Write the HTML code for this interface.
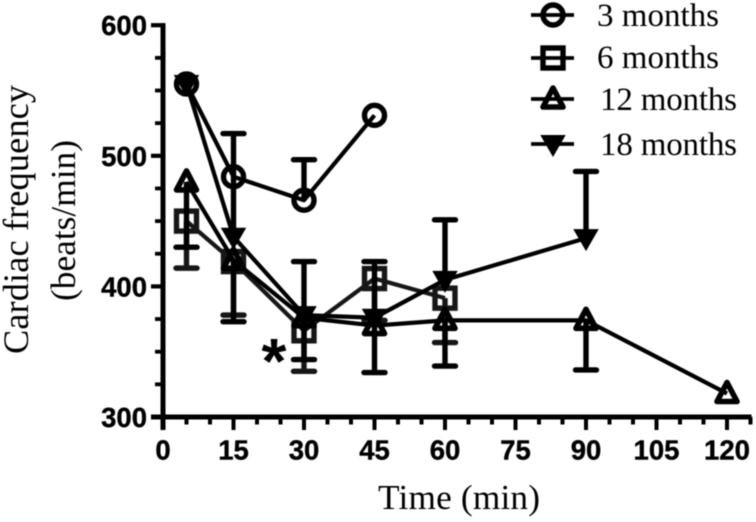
<!DOCTYPE html>
<html><head><meta charset="utf-8"><title>Cardiac frequency</title>
<style>
html,body{margin:0;padding:0;background:#fff;width:756px;height:522px;overflow:hidden}
svg{display:block}
.tick{font:bold 27.5px "Liberation Sans",sans-serif;fill:#000;stroke:#000;stroke-width:.4}
.ser{font-family:"Liberation Serif",serif;fill:#000}
</style></head>
<body>
<svg id="chart" xmlns="http://www.w3.org/2000/svg" width="756" height="522" viewBox="0 0 756 522">
<defs><filter id="soft" x="-5%" y="-5%" width="110%" height="110%"><feGaussianBlur stdDeviation="0.45"/></filter></defs>
<g id="root" filter="url(#soft)"></g>
</svg>
<script>
const xTickLabels = [0, 15, 30, 45, 60, 75, 90, 105, 120];
const yTickLabels = [300, 400, 500, 600];
const legendLabels = ['3 months', '6 months', '12 months', '18 months'];
const times3 = [5, 15, 30, 45];
const values3 = [555, 484, 466, 531];
const errorTips3 = [null, null, 497, null];
const times6 = [5, 15, 30, 45, 60];
const values6 = [450, 419, 366, 406, 391];
const errorTips6 = [414, 378, 335, 374, 357];
const times12 = [5, 15, 30, 45, 60, 90, 120];
const values12 = [480, 420, 376, 370, 374, 374, 318];
const errorTips12 = [430, 373, 344, 334, 339, 336, null];
const times18 = [5, 15, 30, 45, 60, 90];
const values18 = [555, 438, 378, 376, 405, 437];
const errorTips18 = [null, 517, 419, 419, 451, 488];

const NS = 'http://www.w3.org/2000/svg';
const root = document.getElementById('root');
const sx = v => 163 + (v - 0) * 4.7;
const sy = v => 417 - (v - 300) * 1.306;
function mk(tag, attrs, parent, text) {
  const e = document.createElementNS(NS, tag);
  for (const k in attrs) e.setAttribute(k, attrs[k]);
  if (text !== undefined) e.textContent = text;
  (parent || root).appendChild(e);
  return e;
}
function marker(kind, cx, cy, color, parent) {
  if (kind === 'circle') {
    return mk('circle', {cx: cx, cy: cy, r: 10, fill: 'none', stroke: color, 'stroke-width': 5.4}, parent);
  }
  if (kind === 'square') {
    return mk('rect', {x: cx - 10, y: cy - 10, width: 20, height: 20, fill: 'none', stroke: color, 'stroke-width': 5.4}, parent);
  }
  if (kind === 'up') {
    return mk('polygon', {points: [cx, cy - 11, cx + 10, cy + 8, cx - 10, cy + 8].join(','), fill: 'none', stroke: color, 'stroke-width': 5.6, 'stroke-linejoin': 'round'}, parent);
  }
  return mk('polygon', {points: [cx - 11, cy - 8, cx + 11, cy - 8, cx, cy + 11].join(','), fill: color, stroke: color, 'stroke-width': 2}, parent);
}

/* axes */
const axes = mk('g', {stroke: '#000', fill: 'none', 'stroke-linecap': 'butt'});


const yAxisLine = mk('line', {x1: 163, x2: 163, y1: sy(600) - 2, y2: 430, 'stroke-width': 5}, axes);


const xAxisLine = mk('line', {x1: 151, x2: sx(125) + 1, y1: sy(300), y2: sy(300), 'stroke-width': 5}, axes);


mk('line', {x1: 151, x2: 165, y1: sy(600), y2: sy(600), 'stroke-width': 4.2}, axes);
yTickLabels.forEach(v => {
  if (v !== 600) mk('line', {x1: 151, x2: 163, y1: sy(v), y2: sy(v), 'stroke-width': 4.2}, axes);
  if (v !== 600) [25, 50, 75].forEach(d => {
    mk('line', {x1: 155, x2: 163, y1: sy(v + d), y2: sy(v + d), 'stroke-width': 3.8}, axes);
  });
  const t = mk('text', {x: 147, y: sy(v) + 10, 'text-anchor': 'end', class: 'tick'}, root, String(v));
  
  
});
for (let m = 5; m <= 125; m += 5) {
  const major = m % 15 === 0;
  mk('line', {x1: sx(m), x2: sx(m), y1: sy(300), y2: major ? 430 : 424.5, 'stroke-width': 4}, axes);
}
xTickLabels.forEach(v => {
  const t = mk('text', {x: sx(v), y: 459.5, 'text-anchor': 'middle', class: 'tick'}, root, String(v));
  
  
});

/* series */
function drawSeries(name, times, values, tips, kind, color) {
  const g = mk('g', {});
  
  
  times.forEach((t, i) => {
    if (tips[i] === null) return;
    mk('line', {x1: sx(t), x2: sx(t), y1: sy(values[i]), y2: sy(tips[i]), stroke: color, 'stroke-width': 5.4}, g);
    mk('line', {x1: sx(t) - 10.5, x2: sx(t) + 10.5, y1: sy(tips[i]), y2: sy(tips[i]), stroke: color, 'stroke-width': 5.4, 'stroke-linecap': 'round'}, g);
  });
  mk('polyline', {points: times.map((t, i) => sx(t) + ',' + sy(values[i])).join(' '), fill: 'none', stroke: color, 'stroke-width': 4.2, 'stroke-linejoin': 'round'}, g);
  times.forEach((t, i) => {
    const m = marker(kind, sx(t), sy(values[i]), color, g);
    
    
  });
}
drawSeries('series-6-months', times6, values6, errorTips6, 'square', '#141414');
drawSeries('series-3-months', times3, values3, errorTips3, 'circle', '#000');
drawSeries('series-12-months', times12, values12, errorTips12, 'up', '#000');
drawSeries('series-18-months', times18, values18, errorTips18, 'down', '#000');

/* legend */
const legendKinds = ['circle', 'square', 'up', 'down'];
const legendRows = [15, 58, 99, 144];
const legendTextX = [597, 597, 600, 600];
const legendTextY = [26, 68, 110, 155];
legendLabels.forEach((lab, i) => {
  const g = mk('g', {});
  
  
  mk('line', {x1: 531, x2: 574, y1: legendRows[i], y2: legendRows[i], stroke: '#000', 'stroke-width': 3.8}, g);
  marker(legendKinds[i], 553, legendRows[i], '#000', g);
  mk('text', {x: legendTextX[i], y: legendTextY[i], class: 'ser', 'font-size': 33, textLength: i < 2 ? 122 : 137}, g, lab);
});
</script>
<script>
(function () {
  const r = document.getElementById('root');
  const add = (attrs, txt, name) => {
    const e = document.createElementNS('http://www.w3.org/2000/svg', 'text');
    for (const k in attrs) e.setAttribute(k, attrs[k]);
    e.textContent = txt;
    
    
    r.appendChild(e);
  };
  add({transform: 'translate(28,354) rotate(-90)', class: 'ser', 'font-size': 36.3, textLength: 269}, 'Cardiac frequency', 'y-axis-title');
  add({transform: 'translate(75,301) rotate(-90)', class: 'ser', 'font-size': 35.3, textLength: 161}, '(beats/min)', 'y-axis-subtitle');
  add({x: 378, y: 509, class: 'ser', 'font-size': 35.3, textLength: 162}, 'Time (min)', 'x-axis-title');
  add({x: 274, y: 383, 'text-anchor': 'middle', 'font-size': 64, 'font-weight': 'bold', 'font-family': '"Liberation Sans",sans-serif', fill: '#000'}, '*', 'significance-asterisk');
})();
</script>
</body></html>
